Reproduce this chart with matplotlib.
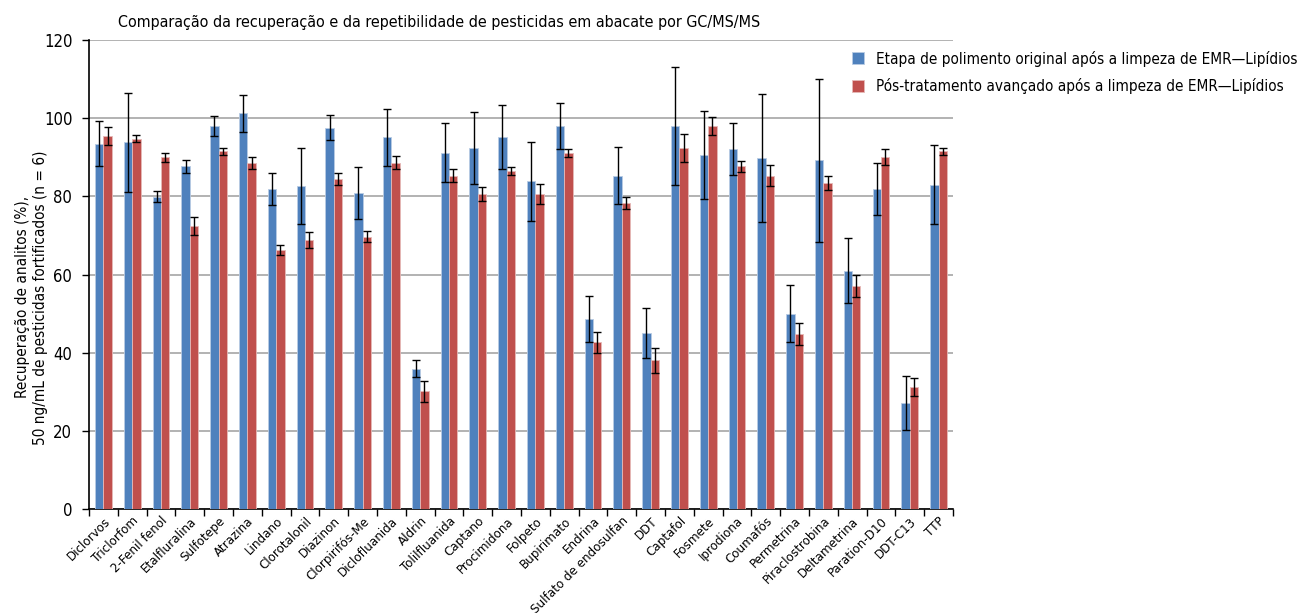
import matplotlib
matplotlib.use("Agg")
import matplotlib.pyplot as plt
import numpy as np

plt.rcParams["font.family"] = ["DejaVu Sans"]
plt.rcParams["font.stretch"] = "condensed"

BLUE = "#4F81BD"
RED = "#C0504D"

pesticidas = [
    "Diclorvos", "Triclorfom", "2-Fenil fenol", "Etalfluralina", "Sulfotepe",
    "Atrazina", "Lindano", "Clorotalonil", "Diazinon", "Clorpirifós-Me",
    "Diclofluanida", "Aldrin", "Tolilfluanida", "Captano", "Procimidona",
    "Folpeto", "Bupirimato", "Endrina", "Sulfato de endosulfan", "DDT",
    "Captafol", "Fosmete", "Iprodiona", "Coumafós", "Permetrina",
    "Piraclostrobina", "Deltametrina", "Paration-D10", "DDT-C13", "TTP",
]

# recuperação média (%) e desvio padrão, polimento original
orig_rec = [93.5, 93.8, 79.9, 87.7, 98.0, 101.2, 81.8, 82.7, 97.6, 80.9,
            95.1, 35.9, 91.2, 92.4, 95.3, 83.9, 98.0, 48.5, 85.3, 45.0,
            98.0, 90.6, 92.1, 89.8, 50.0, 89.2, 61.0, 81.8, 27.1, 83.0]
orig_sd = [5.7, 12.7, 1.4, 1.7, 2.5, 4.7, 4.1, 9.7, 3.2, 6.6,
           7.3, 2.2, 7.6, 9.3, 8.2, 10.1, 5.8, 5.9, 7.2, 6.4,
           15.2, 11.3, 6.7, 16.4, 7.4, 20.8, 8.4, 6.7, 6.8, 10.1]

# pós-tratamento avançado
novo_rec = [95.4, 94.8, 90.0, 72.4, 91.5, 88.6, 66.2, 68.8, 84.4, 69.7,
            88.6, 30.1, 85.3, 80.6, 86.4, 80.6, 91.0, 42.7, 78.3, 38.0,
            92.4, 98.0, 87.7, 85.3, 44.8, 83.3, 57.1, 90.0, 31.2, 91.5]
novo_sd = [2.3, 1.0, 1.1, 2.2, 0.9, 1.5, 1.3, 2.0, 1.5, 1.4,
           1.7, 2.6, 1.7, 1.8, 1.0, 2.5, 1.0, 2.7, 1.5, 3.1,
           3.6, 2.2, 1.4, 2.6, 2.8, 1.8, 2.8, 2.1, 2.2, 0.9]

labels = [
    "Etapa de polimento original após a limpeza de EMR\u2014Lipídios",
    "Pós-tratamento avançado após a limpeza de EMR\u2014Lipídios",
]

fig = plt.figure(figsize=(13.07, 6.13), dpi=100)
ax = fig.add_axes([0.0681, 0.1697, 0.6610, 0.7650])

x = np.arange(len(pesticidas))
w = 0.29
err_kw = dict(ecolor="black", elinewidth=1.0, capsize=2.6, capthick=1.0)
ax.bar(x - w / 2, orig_rec, w, yerr=orig_sd, color=BLUE, edgecolor="#B8CCE4",
       linewidth=0.6, error_kw=err_kw, label=labels[0], zorder=3)
ax.bar(x + w / 2, novo_rec, w, yerr=novo_sd, color=RED, edgecolor="#E6B9B8",
       linewidth=0.6, error_kw=err_kw, label=labels[1], zorder=3)

ax.set_xlim(-0.5, len(pesticidas) - 0.5)
ax.set_ylim(0, 120)
ax.set_yticks(np.arange(0, 121, 20))
ax.tick_params(axis="y", labelsize=12, length=5, width=1, pad=7)
ax.grid(axis="y", color="#A6A6A6", linewidth=1.2, zorder=0)

ax.set_xticks(x)
ax.set_xticklabels(pesticidas, rotation=45, ha="right", rotation_mode="anchor",
                   fontsize=9.5)
ax.tick_params(axis="x", which="major", length=0, pad=4)
ax.set_xticks(np.arange(-0.5, len(pesticidas), 1), minor=True)
ax.tick_params(axis="x", which="minor", length=5, width=1)

for s in ("top", "right"):
    ax.spines[s].set_visible(False)
ax.spines["left"].set_linewidth(1.2)
ax.spines["bottom"].set_linewidth(1.2)

fig.text(0.024, 0.515, "Recuperação de analitos (%),\n50 ng/mL de pesticidas fortificados (n = 6)",
         fontsize=11, rotation=90, ha="center", va="center", multialignment="center")
fig.text(0.0903, 0.963, "Comparação da recuperação e da repetibilidade de pesticidas em abacate por GC/MS/MS",
         fontsize=11.5, ha="left", va="center")

ax.legend(loc="upper left", bbox_to_anchor=(0.641, 0.94), bbox_transform=fig.transFigure,
          frameon=False, fontsize=11, handlelength=0.8, handleheight=0.8,
          handletextpad=0.8, labelspacing=0.75)

fig.savefig("out.png", dpi=100)
